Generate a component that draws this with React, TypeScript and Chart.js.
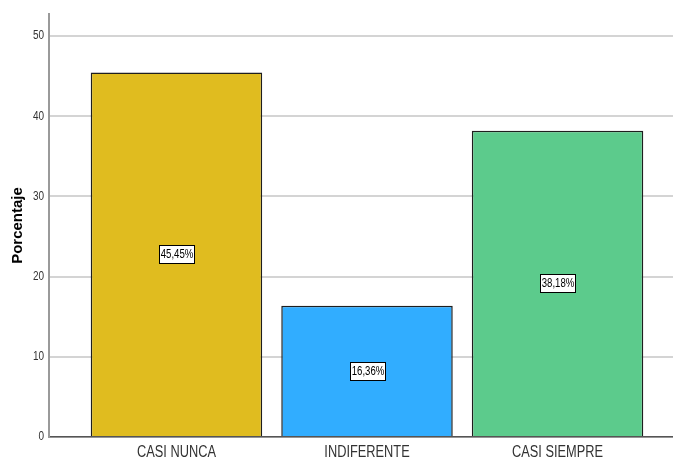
import React, { useEffect, useRef } from "react";
import { Chart, registerables } from "chart.js";

Chart.register(...registerables);

const categories = ["CASI NUNCA", "INDIFERENTE", "CASI SIEMPRE"];
const values = [45.45, 16.36, 38.18];
const valueLabels = ["45,45%", "16,36%", "38,18%"];
const barColors = ["#E0BC1F", "#31ADFF", "#5CCB8C"];
const yTicks = [0, 10, 20, 30, 40, 50];

const SANS = "'Liberation Sans', Arial, sans-serif";
const SQUEEZE = 0.8;

function narrowText(ctx: any, text: string, x: number, y: number, align: "left" | "center" | "right") {
  ctx.save();
  ctx.translate(x, y);
  ctx.scale(SQUEEZE, 1);
  ctx.textAlign = align;
  ctx.fillText(text, 0, 0);
  ctx.restore();
}

const textPlugin = {
  id: "narrowTexts",
  afterDatasetsDraw(chart: any) {
    const ctx = chart.ctx;
    const meta = chart.getDatasetMeta(0);
    ctx.save();
    ctx.font = `12px ${SANS}`;
    ctx.textBaseline = "middle";
    meta.data.forEach((el: any, i: number) => {
      const cx = el.x;
      const cy = (el.y + el.base) / 2;
      const text = valueLabels[i];
      const w = Math.round(ctx.measureText(text).width * SQUEEZE + 2);
      const h = 18;
      const x0 = Math.round(cx - w / 2) + 0.5;
      const y0 = Math.round(cy - h / 2) + 0.5;
      ctx.fillStyle = "#ffffff";
      ctx.fillRect(x0, y0, w, h);
      ctx.strokeStyle = "#000000";
      ctx.lineWidth = 1;
      ctx.strokeRect(x0, y0, w, h);
      ctx.fillStyle = "#000000";
      narrowText(ctx, text, x0 + w / 2, y0 + h / 2 + 0.5, "center");
    });
    ctx.restore();
  },
  afterDraw(chart: any) {
    const ctx = chart.ctx;
    const xs = chart.scales.x;
    const ys = chart.scales.y;
    ctx.save();
    ctx.fillStyle = "#333333";
    ctx.textBaseline = "middle";
    ctx.font = `16px ${SANS}`;
    categories.forEach((c, i) => {
      narrowText(ctx, c, xs.getPixelForValue(i), xs.top + 16, "center");
    });
    ctx.font = `12.5px ${SANS}`;
    yTicks.forEach((v) => {
      narrowText(ctx, String(v), ys.right - 5, ys.getPixelForValue(v), "right");
    });
    ctx.restore();
  },
};

export default function App() {
  const ref = useRef<HTMLCanvasElement | null>(null);
  useEffect(() => {
    if (!ref.current) return;
    const chart = new Chart(ref.current, {
      type: "bar",
      data: {
        datasets: [
          {
            data: values.map((v, i) => ({ x: i, y: v })),
            backgroundColor: barColors,
            borderColor: "#1e1e1e",
            borderWidth: 1.5,
            barPercentage: 0.9,
            categoryPercentage: 1,
          },
        ],
      },
      options: {
        animation: false,
        responsive: false,
        layout: { padding: { top: 14, right: 0, left: 0, bottom: 0 } },
        plugins: { legend: { display: false }, tooltip: { enabled: false } },
        scales: {
          x: {
            type: "linear",
            min: -0.669,
            max: 2.606,
            offset: false,
            grid: { display: false, drawTicks: false },
            border: { display: true, color: "#555555", width: 1.5 },
            afterBuildTicks: (scale: any) => {
              scale.ticks = categories.map((_, i) => ({ value: i }));
            },
            afterFit: (scale: any) => {
              scale.height = 22;
            },
            ticks: {
              display: false,
              autoSkip: false,
              maxRotation: 0,
              minRotation: 0,
            },
          },
          y: {
            type: "linear",
            min: 0,
            max: 52.74,
            afterBuildTicks: (scale: any) => {
              scale.ticks = yTicks.map((v) => ({ value: v }));
            },
            afterFit: (scale: any) => {
              scale.width = 49;
            },
            grid: { color: "#d4d4d4", lineWidth: 2, drawTicks: false },
            border: { display: true, color: "#9a9a9a", width: 2 },
            ticks: {
              display: false,
            },
            title: {
              display: true,
              text: "Porcentaje",
              color: "#000000",
              padding: { top: 9, bottom: 0 },
              font: { family: SANS, size: 15, weight: "bold" },
            },
          },
        },
      },
      plugins: [textPlugin],
    } as any);
    return () => chart.destroy();
  }, []);
  return (
    <div style={{ position: "fixed", left: 0, top: 0, width: 673, height: 459, background: "#fff" }}>
      <canvas ref={ref} width={673} height={459} style={{ display: "block" }} />
    </div>
  );
}
